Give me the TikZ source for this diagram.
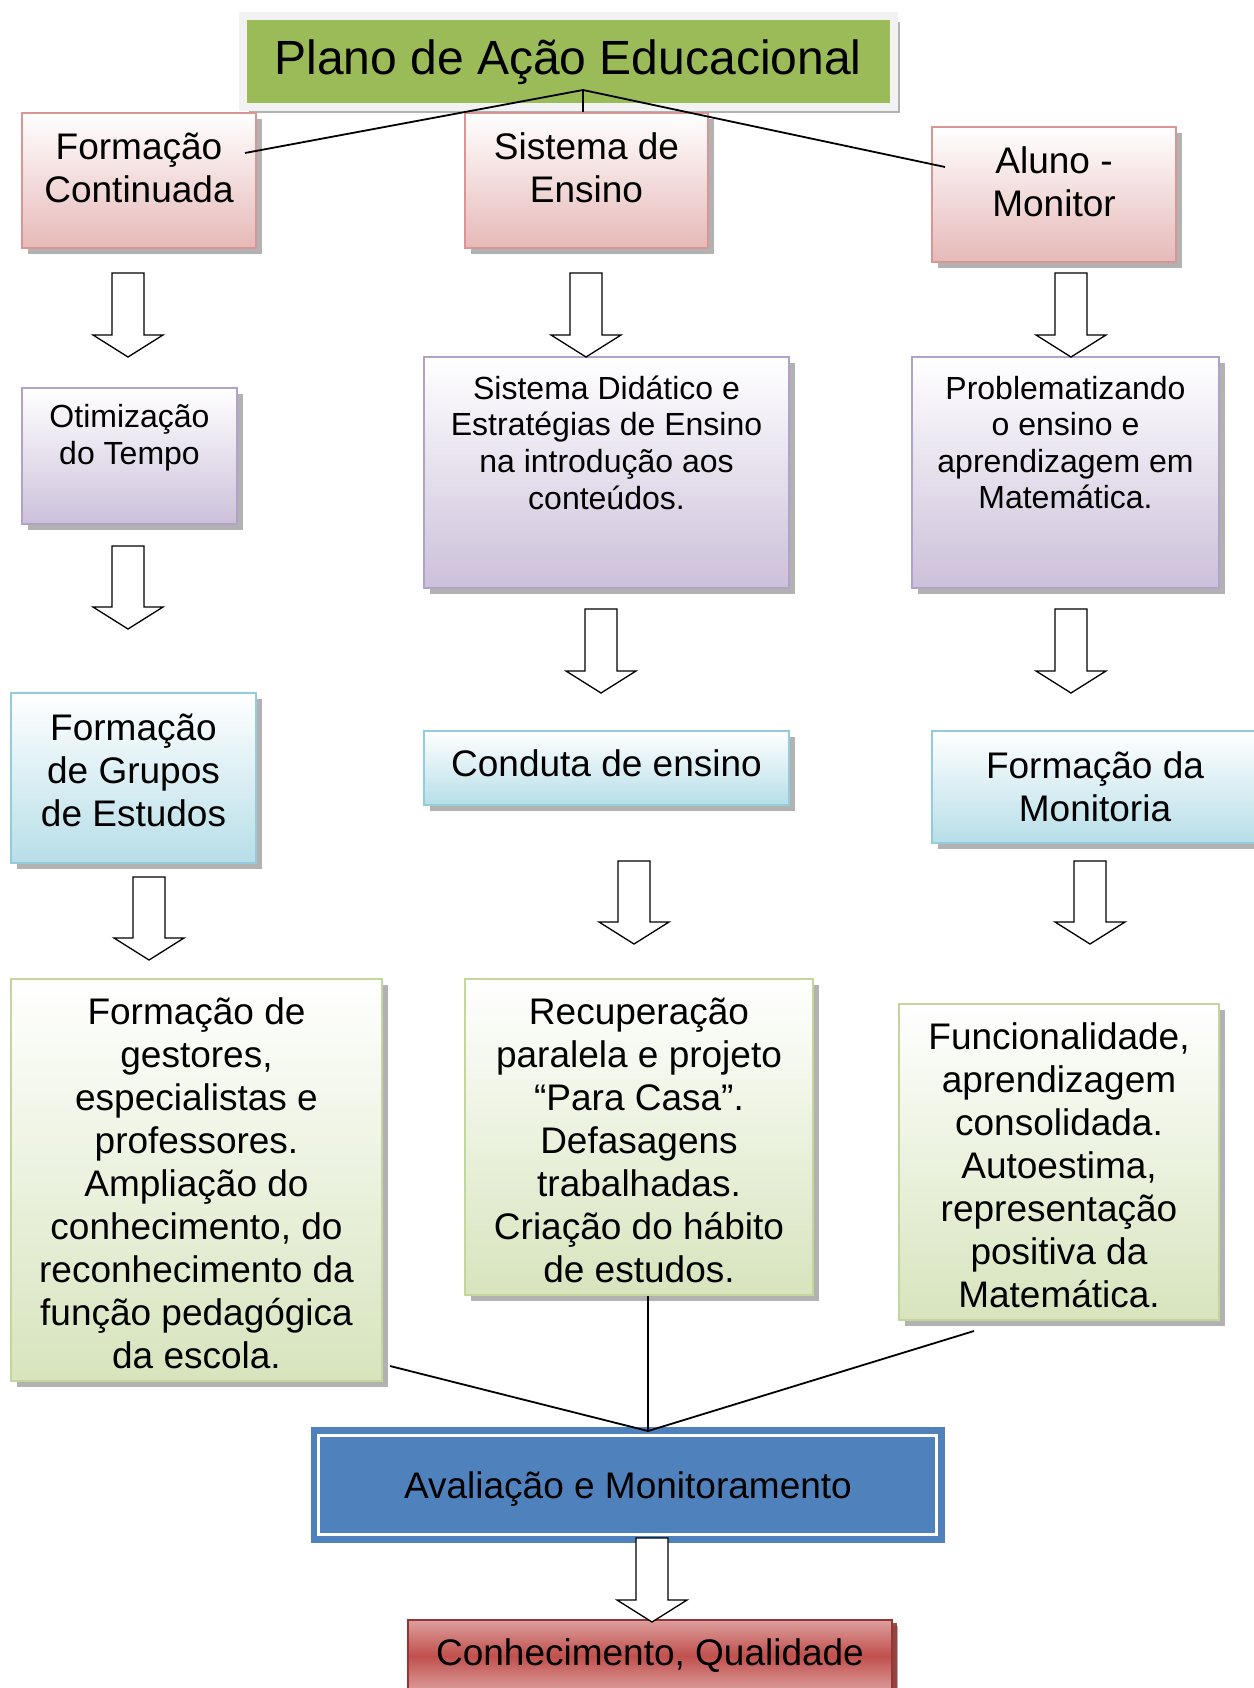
\documentclass[tikz,border=0pt]{standalone}
\usepackage{fontspec}
\setmainfont{Liberation Sans}
\usepackage{xcolor}
\usetikzlibrary{shadows}
\definecolor{verdetit}{HTML}{9BBB59}
\definecolor{cinzaclaro}{HTML}{F2F2F2}
\definecolor{rosa}{HTML}{E6B9B8}
\definecolor{rosaborda}{HTML}{D99694}
\definecolor{lilas}{HTML}{CCC0DA}
\definecolor{lilasborda}{HTML}{B3A2C7}
\definecolor{azulclaro}{HTML}{B7DEE8}
\definecolor{azulborda}{HTML}{93CDDD}
\definecolor{verdeclaro}{HTML}{D7E4BD}
\definecolor{verdeborda}{HTML}{C3D69B}
\definecolor{azulav}{HTML}{4F81BD}
\definecolor{vermelho}{HTML}{C0504D}
\definecolor{vermelhoesc}{HTML}{943634}
\tikzset{
  sombra/.style={drop shadow={shadow xshift=6pt, shadow yshift=-6pt, fill=black, opacity=.3}},
  caixa/.style={line width=1.6pt, inner sep=0pt, align=center, font=\fontsize{37}{43}\selectfont, sombra},
  rosabox/.style={caixa, draw=rosaborda, top color=white, bottom color=rosa},
  lilasbox/.style={caixa, draw=lilasborda, top color=white, bottom color=lilas},
  azulbox/.style={caixa, draw=azulborda, top color=white, bottom color=azulclaro},
  verdebox/.style={caixa, draw=verdeborda, top color=white, bottom color=verdeclaro},
  texto/.style={align=center, font=\fontsize{37}{43}\selectfont},
  textop/.style={align=center, font=\fontsize{32}{36.6}\selectfont},
  liga/.style={line width=1.8pt}
}
% seta vazada: x do centro, y do topo, y da ponta
\newcommand{\seta}[3]{\draw[line width=1.3pt, fill=white] (#1-16,#2) -- (#1+16,#2) -- (#1+16,#3-22) -- (#1+35,#3-22) -- (#1,#3) -- (#1-35,#3-22) -- (#1-16,#3-22) -- cycle;}
\begin{document}
\begin{tikzpicture}[x=1pt, y=-1pt]
\useasboundingbox (0,0) rectangle (1253,1688);
\node[line width=8pt, draw=cinzaclaro, fill=verdetit, minimum width=651pt, minimum height=91pt, font=\fontsize{48}{56}\selectfont, drop shadow={shadow xshift=6pt, shadow yshift=-6pt, fill=black, opacity=.3}] (plano) at (568,62) {Plano de Ação Educacional};
\node[rosabox, minimum width=234pt, minimum height=135pt] (fc) at (139,180.5) {};
\node[texto] (fc-t) at (139,167.5) {Formação\\Continuada};
\node[rosabox, minimum width=243pt, minimum height=135pt] (se) at (586.5,180.5) {};
\node[texto] (se-t) at (586.5,167.5) {Sistema de\\Ensino};
\node[rosabox, minimum width=244pt, minimum height=135pt] (am) at (1054,194.5) {};
\node[texto] (am-t) at (1054,181.5) {Aluno -\\Monitor};
\node[lilasbox, minimum width=215pt, minimum height=136pt] (ot) at (129.5,456) {};
\node[textop] (ot-t) at (129.5,437.5) {Otimização\\do Tempo};
\node[lilasbox, minimum width=365pt, minimum height=231pt] (sd) at (606.5,472.5) {};
\node[textop] (sd-t) at (606.5,442.5) {Sistema Didático e\\Estratégias de Ensino\\na introdução aos\\conteúdos.};
\node[lilasbox, minimum width=307pt, minimum height=231pt] (pr) at (1065.5,472.5) {};
\node[textop] (pr-t) at (1065.5,442.5) {Problematizando\\o ensino e\\aprendizagem em\\Matemática.};
\node[azulbox, minimum width=245pt, minimum height=170pt] (fg) at (133.5,778) {};
\node[texto] (fg-t) at (133.5,770) {Formação\\de Grupos\\de Estudos};
\node[azulbox, minimum width=365pt, minimum height=74pt] (ce) at (606.5,768) {};
\node[texto] (ce-t) at (606.5,763) {Conduta de ensino};
\node[azulbox, minimum width=326pt, minimum height=112pt] (fm) at (1095,787) {Formação da\\Monitoria};
\node[verdebox, minimum width=371pt, minimum height=402pt] (fe) at (196.5,1180) {};
\node[texto] (fe-t) at (196.5,1183) {Formação de\\gestores,\\especialistas e\\professores.\\Ampliação do\\conhecimento, do\\reconhecimento da\\função pedagógica\\da escola.};
\node[verdebox, minimum width=348pt, minimum height=316pt] (rp) at (639,1137) {};
\node[texto] (rp-t) at (639,1140) {Recuperação\\paralela e projeto\\“Para Casa”.\\Defasagens\\trabalhadas.\\Criação do hábito\\de estudos.};
\node[verdebox, minimum width=320pt, minimum height=316pt] (fu) at (1059,1162) {};
\node[texto] (fu-t) at (1059,1165) {Funcionalidade,\\aprendizagem\\consolidada.\\Autoestima,\\representação\\positiva da\\Matemática.};
\node[fill=azulav, minimum width=634pt, minimum height=116pt] (aval) at (628,1485) {};
\node[texto] (aval-t) at (628,1489) {Avaliação e Monitoramento};
\draw[white, line width=3pt] ([shift={(8,9)}]aval.north west) rectangle ([shift={(-9,-9)}]aval.south east);
\node[caixa, draw=vermelhoesc, line width=1.2pt, top color=vermelho!55!white, bottom color=vermelho!55!white, middle color=vermelho, minimum width=484pt, minimum height=72pt, drop shadow={shadow xshift=5pt, shadow yshift=-3pt, fill=vermelhoesc, opacity=.9}] (cq) at (650,1656) {Conhecimento, Qualidade};
\seta{128}{273}{357}
\seta{128}{546}{629}
\seta{149}{877}{960}
\seta{586}{273}{357}
\seta{601}{609}{693}
\seta{634}{861}{944}
\seta{1071}{273}{357}
\seta{1071}{609}{693}
\seta{1090}{861}{944}
\seta{652}{1538}{1622}
\coordinate (jt) at (583,90);
\coordinate (fc-l) at (245,153);
\coordinate (am-l) at (945,167);
\draw[liga] (fc-l) -- (jt) -- (am-l);
\draw[liga] (jt) -- (jt |- se.north);
\coordinate (jb) at (648,1431);
\coordinate (fe-l) at (390,1366);
\coordinate (fu-l) at (974,1331);
\draw[liga] (fe-l) -- (jb) -- (fu-l);
\draw[liga] (jb) -- (jb |- rp.south);
\end{tikzpicture}
\end{document}
